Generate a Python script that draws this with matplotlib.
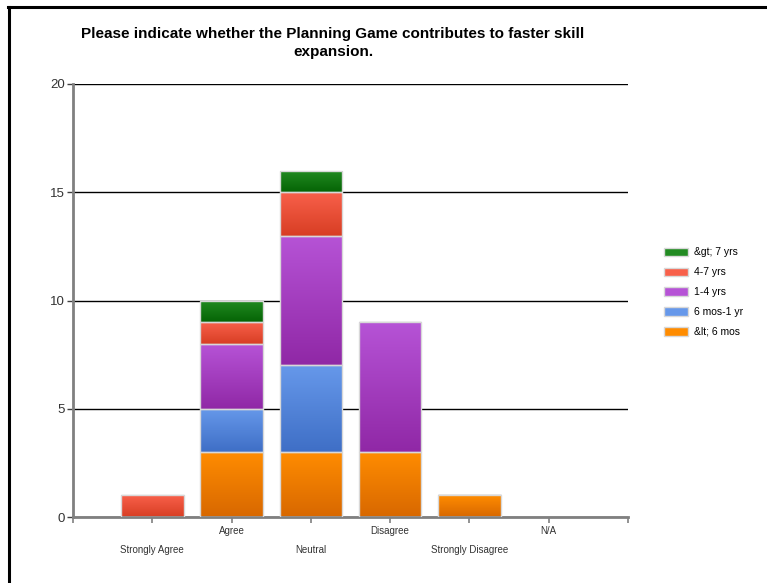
import numpy as np
import matplotlib.pyplot as plt
from matplotlib.colors import LinearSegmentedColormap
from matplotlib.lines import Line2D
from matplotlib.patches import Patch

plt.rcParams['font.family'] = ['Liberation Sans', 'DejaVu Sans']

categories = ['Strongly Agree', 'Agree', 'Neutral', 'Disagree', 'Strongly Disagree', 'N/A']
series = ['&lt; 6 mos', '6 mos-1 yr', '1-4 yrs', '4-7 yrs', '&gt; 7 yrs']
lt_6mos = [0, 3, 3, 3, 1, 0]
mos6_1yr = [0, 2, 4, 0, 0, 0]
yrs1_4 = [0, 3, 6, 6, 0, 0]
yrs4_7 = [1, 1, 2, 0, 0, 0]
gt_7yrs = [0, 1, 1, 0, 0, 0]
values = [lt_6mos, mos6_1yr, yrs1_4, yrs4_7, gt_7yrs]

# (top colour, bottom colour) for the gradient fill
shades = [('#ff8c00', '#d86800'),
          ('#6698ea', '#3f6fc6'),
          ('#b653d6', '#9028a6'),
          ('#f8604a', '#d83e24'),
          ('#228b22', '#056405')]

fig = plt.figure(figsize=(7.67, 5.83), dpi=100)
ax = fig.add_axes([73/767, 66/583, 555/767, 433/583])

x = np.arange(len(categories))
bottom = np.zeros(len(categories))
for vals, (top_c, bot_c) in zip(values, shades):
    vals = np.array(vals, dtype=float)
    bars = ax.bar(x, vals, width=0.79, bottom=bottom, color=top_c,
                  edgecolor='#d8d8d8', linewidth=1, zorder=2)
    cmap = LinearSegmentedColormap.from_list('g', [bot_c, top_c])
    grad = np.linspace(0, 1, 64).reshape(-1, 1)
    for b, v in zip(bars, vals):
        if v <= 0:
            continue
        x0, y0 = b.get_x(), b.get_y()
        im = ax.imshow(grad, cmap=cmap, origin='lower', aspect='auto',
                       extent=(x0, x0 + b.get_width(), y0, y0 + b.get_height()),
                       zorder=2.5)
        im.set_clip_path(b)
        b.set_facecolor('none')
        b.set_zorder(3)
    bottom += vals

ax.set_xlim(-1, 6)
ax.set_ylim(0, 20)
ax.set_yticks([0, 5, 10, 15, 20])
ax.yaxis.grid(True, color='black', linewidth=1, zorder=1)
ax.set_axisbelow(True)

ax.set_xticks(np.arange(-1, 7))
ax.set_xticklabels([''] + categories + [''], fontsize=7, color='#333333')
ax.tick_params(axis='x', length=4.5, color='#808080', width=1.2, pad=2)
ax.tick_params(axis='y', length=4, color='#404040', width=1, pad=2,
               labelsize=9.5, labelcolor='#333333')
for i, t in enumerate(ax.xaxis.get_major_ticks()):
    if i in (1, 3, 5):
        t.set_pad(15.5)

for s in ['top', 'right']:
    ax.spines[s].set_visible(False)
ax.spines['left'].set_color('#808080')
ax.spines['left'].set_linewidth(2)
ax.spines['bottom'].set_color('#808080')
ax.spines['bottom'].set_linewidth(2)

handles = [Patch(facecolor=top_c, edgecolor='#d8d8d8') for top_c, _ in shades]
leg = fig.legend(handles[::-1], series[::-1], loc='upper left',
                 bbox_to_anchor=(655/767, 1 - 238/583), frameon=False,
                 fontsize=7.5, handlelength=2.3, handleheight=0.85,
                 labelspacing=0.95, handletextpad=0.5)

fig.text(333/767, 1 - 43/583, 'Please indicate whether the Planning Game contributes to faster skill\nexpansion.',
         ha='center', va='center', fontsize=11, fontweight='bold', linespacing=1.42)

# outer frame
fig.add_artist(Line2D([8/767, 1], [1 - 7/583, 1 - 7/583], color='black', linewidth=2.2))
fig.add_artist(Line2D([9/767, 9/767], [0, 1 - 7/583], color='black', linewidth=2.2))

fig.savefig('out.png', dpi=100)
